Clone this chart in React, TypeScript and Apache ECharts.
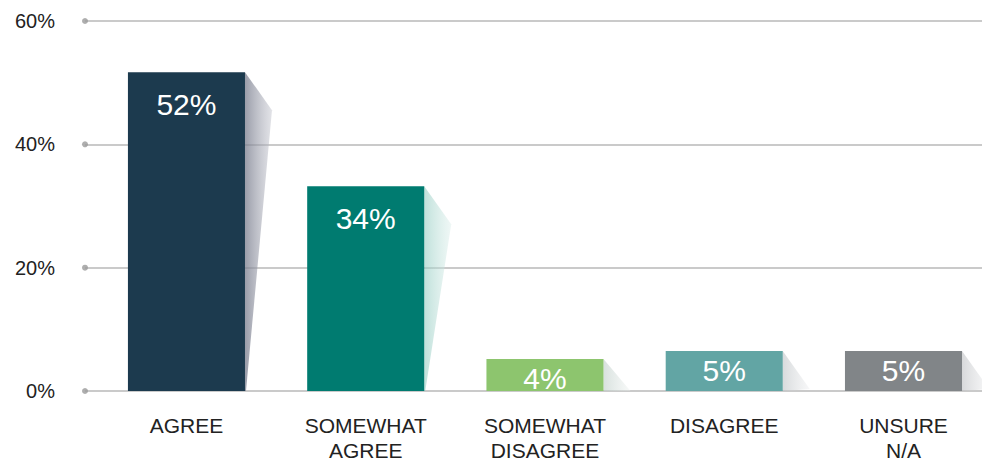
import React, { useEffect, useRef } from "react";
import * as echarts from "echarts";

const categories = ["AGREE", "SOMEWHAT\nAGREE", "SOMEWHAT\nDISAGREE", "DISAGREE", "UNSURE\nN/A"];
const values = [51.7, 33.2, 5.2, 6.5, 6.5];
const valueLabels = ["52%", "34%", "4%", "5%", "5%"];
const barColors = ["#1c3a4e", "#007b70", "#8dc56e", "#62a5a4", "#818588"];
const shadowStops = [
  ["rgba(120,124,140,0.75)", "rgba(190,192,202,0.45)"],
  ["rgba(150,205,195,0.6)", "rgba(215,236,232,0.4)"],
  ["rgba(190,205,200,0.6)", "rgba(235,240,238,0.4)"],
  ["rgba(190,195,198,0.6)", "rgba(235,236,238,0.4)"],
  ["rgba(190,192,195,0.6)", "rgba(235,236,238,0.4)"],
];
const yTicks = [0, 20, 40, 60];

const FONT = "'Liberation Sans', Arial, sans-serif";

export default function App() {
  const ref = useRef<HTMLDivElement>(null);
  useEffect(() => {
    if (!ref.current) return;
    const chart = echarts.init(ref.current, null, { renderer: "svg" });
    const option: any = {
      animation: false,
      grid: [{ left: 85, right: 0, top: 21, bottom: 73 }],
      xAxis: [{ type: "value", min: -0.566, max: 4.438, show: false }],
      yAxis: [
        {
          type: "value",
          min: 0,
          max: 60,
          interval: 20,
          axisLine: { show: false },
          axisTick: { show: false },
          axisLabel: {
            formatter: "{value}%",
            color: "#222",
            fontSize: 20,
            fontFamily: FONT,
            margin: 30,
          },
          splitLine: { show: true, lineStyle: { color: "#b8b8b8", width: 1.5 } },
        },
      ],
      series: [
        {
          type: "scatter",
          data: yTicks.map((t) => [-0.566, t]),
          symbol: "circle",
          symbolSize: 6,
          itemStyle: { color: "#9a9a9a" },
          silent: true,
          clip: false,
          z: 3,
        },
        {
          type: "custom",
          clip: false,
          data: values.map((v, i) => [i, v]),
          renderItem: (params: any, api: any) => {
            const i = api.value(0);
            const v = api.value(1);
            const top = api.coord([i, v]);
            const base = api.coord([i, 0]);
            const band = api.size([1, 0])[0];
            const w = band * 0.653;
            const x0 = top[0] - w / 2;
            const x1 = top[0] + w / 2;
            const yTop = top[1];
            const yBase = base[1];
            const h = yBase - yTop;
            const dx = 27;
            const dy = 38;
            let pts: number[][];
            if (h > dy) {
              pts = [
                [x1, yTop],
                [x1 + dx, yTop + dy],
                [x1 + 1, yBase],
                [x1, yBase],
              ];
            } else {
              pts = [
                [x1, yTop],
                [x1 + dx, yBase],
                [x1, yBase],
              ];
            }
            const off = Math.min(Math.max(h * 0.5, 19.5), 32);
            return {
              type: "group",
              children: [
                {
                  type: "polygon",
                  shape: { points: pts },
                  style: {
                    fill: {
                      type: "linear",
                      x: 0,
                      y: 0,
                      x2: 1,
                      y2: 0,
                      colorStops: [
                        { offset: 0, color: shadowStops[i][0] },
                        { offset: 1, color: shadowStops[i][1] },
                      ],
                    },
                  },
                },
                {
                  type: "rect",
                  shape: { x: x0, y: yTop, width: w, height: h },
                  style: { fill: barColors[i] },
                },
                {
                  type: "text",
                  style: {
                    text: valueLabels[i],
                    x: top[0],
                    y: yTop + off,
                    align: "center",
                    verticalAlign: "middle",
                    fill: "#ffffff",
                    fontSize: 30,
                    fontFamily: FONT,
                  },
                },
                {
                  type: "text",
                  style: {
                    text: categories[i],
                    x: top[0],
                    y: yBase + 22,
                    align: "center",
                    verticalAlign: "top",
                    fill: "#222",
                    fontSize: 21,
                    lineHeight: 25,
                    fontFamily: FONT,
                  },
                },
              ],
            };
          },
          z: 4,
        },
      ],
    };
    chart.setOption(option);
    return () => chart.dispose();
  }, []);
  return (
    <div
      ref={ref}
      style={{ position: "absolute", left: 0, top: 0, width: 982, height: 464, background: "#fff" }}
    />
  );
}
